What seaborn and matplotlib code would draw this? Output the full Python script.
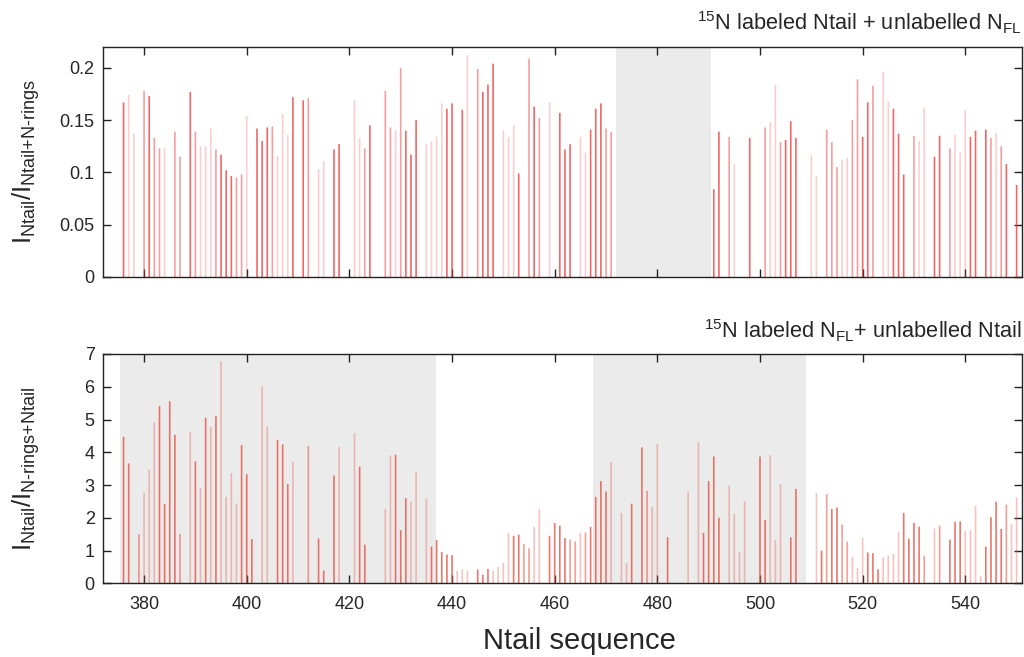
import numpy as np
import pandas as pd
import matplotlib
matplotlib.use("Agg")
import matplotlib.pyplot as plt
from matplotlib.colors import to_rgba
import seaborn as sns

# ---------------- data ----------------
top_res = [376, 377, 378, 380, 381, 382, 383, 384, 386, 387, 389, 390, 391, 392, 393, 394, 395, 396, 397, 398,
           399, 400, 402, 403, 404, 405, 406, 407, 408, 409, 411, 412, 414, 415, 417, 418, 421, 422, 423, 424,
           427, 428, 429, 430, 431, 432, 433, 435, 436, 437, 438, 439, 440, 442, 443, 445, 446, 447, 448, 450,
           451, 452, 453, 455, 456, 457, 459, 461, 462, 463, 465, 466, 467, 468, 469, 470, 471, 491, 492, 494,
           495, 498, 501, 502, 503, 504, 505, 506, 507, 510, 511, 513, 514, 515, 516, 517, 518, 519, 520, 521,
           522, 524, 525, 526, 527, 528, 530, 531, 532, 534, 535, 537, 538, 539, 540, 541, 542, 544, 545, 546,
           547, 548, 550]
top_val = [0.167, 0.174, 0.137, 0.178, 0.173, 0.133, 0.123, 0.123, 0.139, 0.115, 0.177, 0.139, 0.125, 0.125, 0.142, 0.122, 0.117, 0.102, 0.0965, 0.095,
           0.098, 0.154, 0.142, 0.130, 0.143, 0.144, 0.116, 0.156, 0.136, 0.172, 0.169, 0.171, 0.103, 0.111, 0.122, 0.127, 0.169, 0.133, 0.123, 0.145,
           0.178, 0.143, 0.140, 0.200, 0.140, 0.117, 0.150, 0.127, 0.130, 0.134, 0.166, 0.161, 0.166, 0.160, 0.212, 0.199, 0.177, 0.184, 0.204, 0.140,
           0.134, 0.145, 0.099, 0.209, 0.163, 0.152, 0.167, 0.157, 0.122, 0.127, 0.134, 0.119, 0.141, 0.161, 0.166, 0.142, 0.139, 0.084, 0.139, 0.134,
           0.108, 0.133, 0.143, 0.148, 0.184, 0.129, 0.131, 0.149, 0.133, 0.116, 0.097, 0.141, 0.129, 0.105, 0.112, 0.114, 0.150, 0.189, 0.134, 0.167,
           0.183, 0.196, 0.168, 0.161, 0.137, 0.098, 0.135, 0.130, 0.162, 0.115, 0.135, 0.123, 0.136, 0.119, 0.160, 0.134, 0.140, 0.141, 0.133, 0.138,
           0.125, 0.108, 0.088]
# colour intensity of each line (3 = strong red, 2 = medium, 1 = pale)
top_lvl = [3, 1, 1, 2, 3, 2, 2, 1, 2, 2, 3, 2, 1, 1, 1, 2, 3, 3, 3, 2,
           2, 1, 3, 3, 3, 2, 1, 1, 1, 3, 3, 2, 1, 1, 3, 3, 1, 1, 2, 3,
           2, 2, 1, 2, 3, 3, 3, 1, 1, 1, 1, 3, 3, 3, 1, 2, 3, 3, 3, 1,
           1, 1, 3, 2, 3, 2, 1, 3, 3, 3, 1, 1, 3, 3, 3, 2, 2, 3, 3, 2,
           1, 3, 2, 1, 1, 2, 3, 3, 3, 1, 1, 2, 2, 2, 1, 1, 2, 2, 3, 3,
           2, 1, 1, 3, 3, 3, 2, 1, 1, 3, 3, 2, 1, 1, 1, 3, 3, 3, 2, 1,
           2, 3, 3]

bot_res = [376, 377, 379, 380, 381, 382, 383, 384, 385, 386, 387, 389, 390, 391, 392, 393, 394, 395, 396, 397,
           398, 399, 400, 401, 403, 404, 406, 407, 408, 409, 412, 414, 415, 417, 418, 421, 422, 423, 427, 428,
           429, 430, 431, 432, 433, 435, 436, 437, 438, 439, 440, 441, 442, 443, 445, 446, 447, 448, 449, 450,
           451, 452, 453, 454, 455, 456, 457, 459, 460, 461, 462, 463, 464, 465, 466, 467, 468, 469, 470, 471,
           473, 474, 475, 477, 478, 479, 480, 482, 486, 488, 489, 490, 491, 492, 494, 495, 496, 497, 500, 501,
           502, 503, 504, 506, 507, 511, 512, 513, 514, 515, 516, 517, 518, 519, 520, 521, 522, 523, 524, 525,
           526, 527, 528, 529, 530, 531, 532, 534, 535, 537, 538, 539, 540, 541, 542, 543, 544, 545, 546, 547,
           548, 549, 550]
bot_val = [4.47, 3.66, 1.49, 2.76, 3.47, 4.92, 5.41, 2.42, 5.56, 4.53, 1.51, 4.63, 3.72, 2.91, 5.05, 4.77, 5.10, 6.78, 2.64, 3.37,
           2.43, 4.22, 3.33, 1.35, 6.02, 4.79, 4.38, 4.24, 3.03, 3.72, 4.19, 1.37, 0.39, 3.29, 4.16, 4.59, 3.56, 1.18, 2.27, 3.90,
           3.92, 1.62, 2.60, 2.48, 3.40, 2.58, 1.12, 1.32, 0.96, 0.88, 0.86, 0.38, 0.42, 0.38, 0.42, 0.26, 0.44, 0.39, 0.50, 0.63,
           1.54, 1.45, 1.49, 1.20, 1.07, 1.72, 2.27, 1.45, 1.84, 1.76, 1.38, 1.33, 1.28, 1.54, 1.55, 1.72, 2.64, 3.12, 2.80, 3.70,
           2.15, 0.62, 2.43, 4.15, 2.82, 2.33, 4.26, 1.41, 2.79, 4.31, 1.54, 3.12, 3.87, 2.00, 2.98, 2.12, 0.96, 2.51, 3.87, 1.93,
           3.91, 1.32, 3.03, 1.40, 2.88, 2.76, 1.00, 2.72, 2.27, 2.31, 1.79, 1.27, 0.81, 0.47, 1.38, 0.94, 0.92, 0.43, 0.80, 0.84,
           0.89, 1.57, 2.15, 1.36, 1.85, 1.73, 0.84, 1.67, 1.76, 1.33, 1.88, 1.89, 1.60, 1.63, 2.37, 0.23, 1.12, 2.02, 2.49, 1.66,
           2.40, 1.82, 2.61]
bot_lvl = [3, 3, 2, 1, 1, 1, 3, 3, 3, 3, 2, 1, 3, 1, 3, 1, 3, 1, 1, 1,
           1, 3, 3, 3, 1, 1, 3, 3, 3, 1, 2, 3, 3, 3, 1, 1, 3, 3, 1, 1,
           3, 3, 3, 1, 1, 1, 3, 3, 3, 3, 3, 1, 1, 1, 3, 3, 3, 1, 1, 1,
           1, 3, 3, 2, 2, 1, 1, 3, 3, 3, 3, 2, 2, 1, 2, 3, 3, 3, 3, 1,
           1, 1, 3, 3, 2, 1, 1, 3, 1, 1, 3, 3, 3, 3, 1, 1, 1, 1, 3, 3,
           1, 1, 1, 3, 3, 1, 3, 2, 3, 3, 2, 2, 1, 1, 1, 3, 3, 3, 1, 1,
           1, 1, 3, 3, 3, 3, 2, 1, 2, 3, 3, 3, 1, 1, 1, 1, 3, 3, 3, 3,
           2, 1, 1]

top_shade = [(471.9, 490.5)]
bot_shade = [(375.3, 436.9), (467.5, 509.0)]

x_ticks = [380, 400, 420, 440, 460, 480, 500, 520, 540]
top_yticks = [0, 0.05, 0.1, 0.15, 0.2]
top_yticklabels = ["0", "0.05", "0.1", "0.15", "0.2"]
bot_yticks = [0, 1, 2, 3, 4, 5, 6, 7]

top_title = r"$^{15}$N labeled Ntail + unlabelled N$_{\mathrm{FL}}$"
bot_title = r"$^{15}$N labeled N$_{\mathrm{FL}}$+ unlabelled Ntail"
top_ylabel = r"$\text{I}_{\text{Ntail}}/\text{I}_{\text{Ntail+N-rings}}$"
bot_ylabel = r"$\text{I}_{\text{Ntail}}/\text{I}_{\text{N-rings+Ntail}}$"
x_label = "Ntail sequence"

# ---------------- style ----------------
sns.set_theme(style="ticks")
plt.rcParams["font.family"] = ["Liberation Sans", "DejaVu Sans"]
plt.rcParams["mathtext.fontset"] = "custom"
plt.rcParams["mathtext.rm"] = "Liberation Sans"
plt.rcParams["mathtext.it"] = "Liberation Sans:italic"
plt.rcParams["mathtext.bf"] = "Liberation Sans:bold"
plt.rcParams["mathtext.sf"] = "Liberation Sans"

TOP_ALPHA = {3: 0.75, 2: 0.48, 1: 0.24}
BOT_ALPHA = {3: 0.78, 2: 0.55, 1: 0.34}
TOP_COLOR = "#ee3333"
BOT_COLOR = "#e64e3e"
SHADE = "#ebebeb"

fig = plt.figure(figsize=(10.24, 6.57), dpi=100)
ax1 = fig.add_axes([0.1006, 0.5784, 0.8972, 0.3505])
ax2 = fig.add_axes([0.1006, 0.1122, 0.8972, 0.3490])


def draw(ax, res, val, lvl, color, alphas, shades):
    df = pd.DataFrame({"res": res, "val": val})
    sns.barplot(data=df, x="res", y="val", native_scale=True, width=0.32,
                color=color, saturation=1, errorbar=None, linewidth=0,
                ax=ax, zorder=2)
    alpha_of = dict(zip(res, [alphas[l] for l in lvl]))
    for p in list(ax.patches):
        cx = p.get_x() + p.get_width() / 2
        r = int(round(cx))
        if r in alpha_of:
            p.set_facecolor(to_rgba(color, alpha_of[r]))
            p.set_edgecolor("none")
            p.set_linewidth(0)
            p.set_snap(False)
            p.set_antialiased(True)
    for a, b in shades:
        ax.axvspan(a, b, color=SHADE, lw=0, zorder=0)
    ax.set_xlim(372, 551)
    ax.set_xticks(x_ticks)
    ax.tick_params(axis="both", which="major", direction="in", length=6, width=1.0,
                   top=True, right=True, labelsize=13, color="#222222", pad=6)
    for s in ax.spines.values():
        s.set_visible(True)
        s.set_linewidth(1.0)
        s.set_color("#222222")
    ax.set_xlabel("")
    ax.set_facecolor("white")


draw(ax1, top_res, top_val, top_lvl, TOP_COLOR, TOP_ALPHA, top_shade)
ax1.set_ylim(0, 0.2202)
ax1.set_yticks(top_yticks)
ax1.set_yticklabels(top_yticklabels)
ax1.tick_params(axis="x", labelbottom=False)
ax1.set_ylabel(top_ylabel, fontsize=18.5)
ax1.yaxis.set_label_coords(-0.066, 0.5)
ax1.text(1.0, 1.045, top_title, transform=ax1.transAxes, ha="right", va="bottom", fontsize=15.7)

draw(ax2, bot_res, bot_val, bot_lvl, BOT_COLOR, BOT_ALPHA, bot_shade)
ax2.set_ylim(0, 7)
ax2.set_yticks(bot_yticks)
ax2.tick_params(axis="x", pad=9)
ax2.set_ylabel(bot_ylabel, fontsize=18.5)
ax2.yaxis.set_label_coords(-0.066, 0.5)
ax2.text(1.0, 1.045, bot_title, transform=ax2.transAxes, ha="right", va="bottom", fontsize=15.7)

fig.text(579 / 1024, 1 - 641 / 657, x_label, ha="center", va="center", fontsize=21)

fig.savefig("out.png", dpi=100)
